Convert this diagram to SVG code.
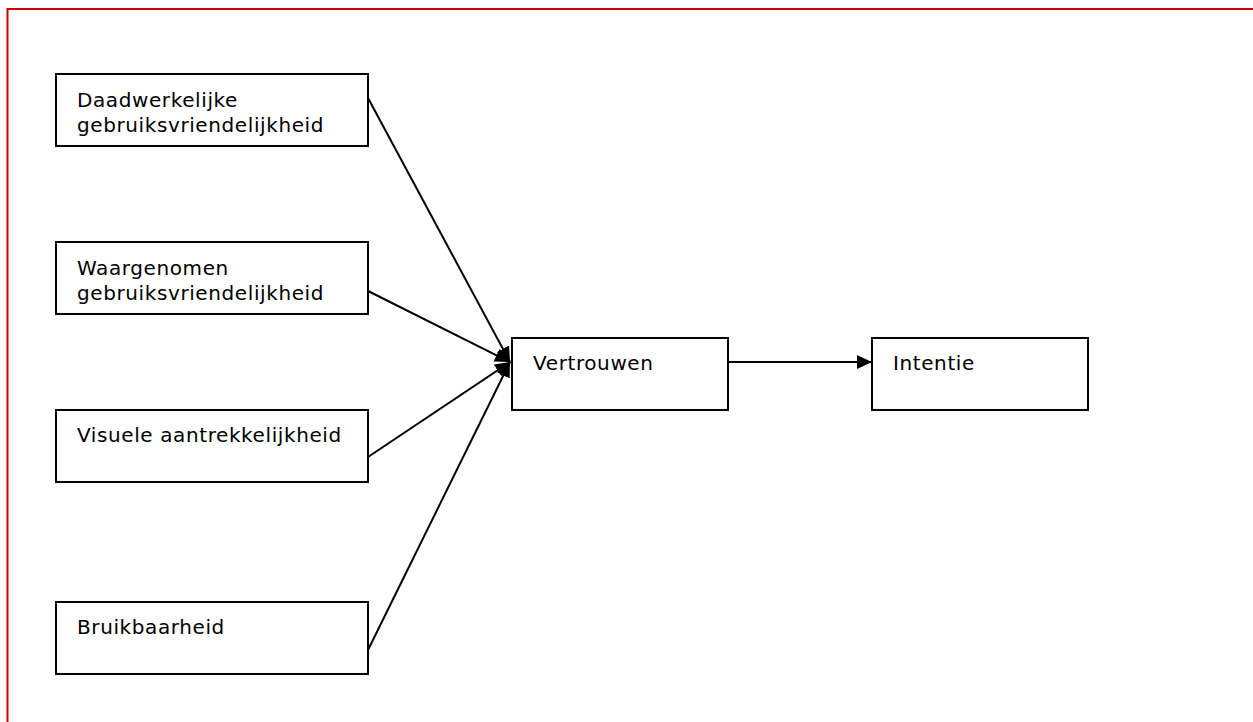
<svg xmlns="http://www.w3.org/2000/svg" width="1253" height="722" viewBox="0 0 1253 722">
<style>
.box{fill:#fff;stroke:#000;stroke-width:2}
.lbl{font-family:"DejaVu Sans","Liberation Sans",sans-serif;font-size:20px;letter-spacing:0.6px;fill:#000}
.con{stroke:#000;stroke-width:2;fill:none}
.frame{stroke:#cc0000;stroke-width:2;fill:none}
</style>
<defs>
<marker id="ah" markerUnits="userSpaceOnUse" markerWidth="16" markerHeight="14" refX="15" refY="7" orient="auto">
<path d="M0,0 L15,7 L0,14 Z" fill="#000"/>
</marker>
</defs>
<rect width="1253" height="722" fill="#fff"/>
<path class="frame" d="M7.5,722 V9 H1253"/>
<g id="connectors">
<line class="con" x1="368" y1="98" x2="510" y2="362" marker-end="url(#ah)"/>
<line class="con" x1="368" y1="291" x2="510" y2="362" marker-end="url(#ah)"/>
<line class="con" x1="368" y1="457" x2="510" y2="362" marker-end="url(#ah)"/>
<line class="con" x1="368" y1="650" x2="510" y2="362" marker-end="url(#ah)"/>
<line class="con" x1="728" y1="362" x2="872" y2="362" marker-end="url(#ah)"/>
</g>
<g id="node-daadwerkelijke">
<rect class="box" x="56" y="74" width="312" height="72"/>
<text class="lbl" x="77" y="107">Daadwerkelijke</text>
<text class="lbl" x="77" y="132">gebruiksvriendelijkheid</text>
</g>
<g id="node-waargenomen">
<rect class="box" x="56" y="242" width="312" height="72"/>
<text class="lbl" x="77" y="275">Waargenomen</text>
<text class="lbl" x="77" y="300">gebruiksvriendelijkheid</text>
</g>
<g id="node-visuele">
<rect class="box" x="56" y="410" width="312" height="72"/>
<text class="lbl" x="77" y="442">Visuele aantrekkelijkheid</text>
</g>
<g id="node-bruikbaarheid">
<rect class="box" x="56" y="602" width="312" height="72"/>
<text class="lbl" x="77" y="634">Bruikbaarheid</text>
</g>
<g id="node-vertrouwen">
<rect class="box" x="512" y="338" width="216" height="72"/>
<text class="lbl" x="533" y="370">Vertrouwen</text>
</g>
<g id="node-intentie">
<rect class="box" x="872" y="338" width="216" height="72"/>
<text class="lbl" x="893" y="370">Intentie</text>
</g>
</svg>
